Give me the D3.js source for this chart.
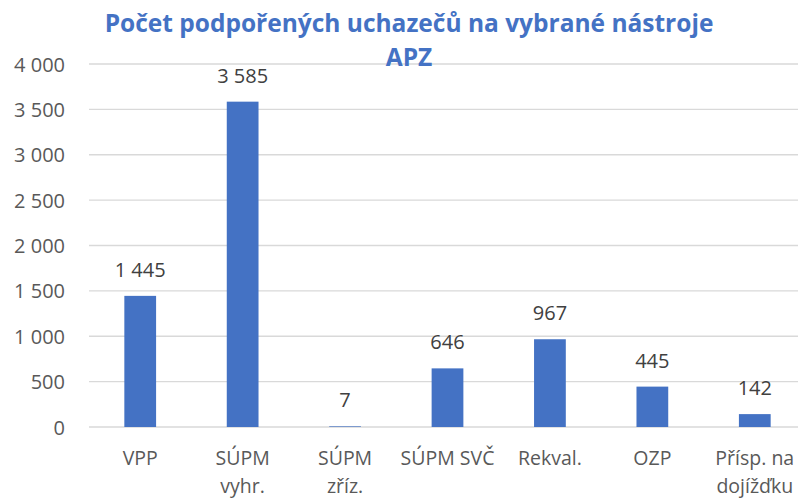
<!DOCTYPE html>
<html>
<head>
<meta charset="utf-8">
<script src="https://cdn.jsdelivr.net/npm/d3@7"></script>
<style>
  body { margin: 0; background: #fff; }
  text { font-family: "Open Sans", sans-serif; }
</style>
</head>
<body>
<svg width="798" height="499"></svg>
<script>
// Data
const categories = [
    ["VPP"],
    ["SÚPM", "vyhr."],
    ["SÚPM", "zříz."],
    ["SÚPM SVČ"],
    ["Rekval."],
    ["OZP"],
    ["Přísp. na", "dojížďku"]
];
const values = [1445, 3585, 7, 646, 967, 445, 142];
const yTicks = [0, 500, 1000, 1500, 2000, 2500, 3000, 3500, 4000];
const titleLines = ["Počet podpořených uchazečů na vybrané nástroje", "APZ"];

const svg = d3.select("svg");
const blue = "#4472C4";
const fmt = v => d3.format(",")(v).replace(/,/g, " ");

// Plot area
const plotLeft = 89, plotRight = 806, plotTop = 64, plotBottom = 427;

const x = d3.scaleBand()
    .domain(d3.range(categories.length))
    .range([plotLeft, plotRight])
    .paddingInner(0.69)
    .paddingOuter(0.345);

const y = d3.scaleLinear()
    .domain([0, 4000])
    .range([plotBottom, plotTop]);

// Gridlines
svg.append("g")
    .selectAll("line")
    .data(yTicks)
    .enter()
    .append("line")
    .attr("x1", plotLeft)
    .attr("x2", 798)
    .attr("y1", d => y(d))
    .attr("y2", d => y(d))
    .attr("stroke", "#d9d9d9")
    .attr("stroke-width", 1.3);

// Y tick labels
svg.append("g")
    .selectAll("text")
    .data(yTicks)
    .enter()
    .append("text")
    .attr("x", 65)
    .attr("y", d => y(d) + 7.5)
    .attr("text-anchor", "end")
    .attr("font-size", 20)
    .attr("fill", "#595959")
    .text(d => fmt(d));

// Bars
svg.append("g")
    .selectAll("rect")
    .data(values)
    .enter()
    .append("rect")
    .attr("x", (d, i) => x(i))
    .attr("width", x.bandwidth())
    .attr("y", d => y(d))
    .attr("height", d => plotBottom - y(d))
    .attr("fill", blue);

// Value labels
svg.append("g")
    .selectAll("text")
    .data(values)
    .enter()
    .append("text")
    .attr("x", (d, i) => x(i) + x.bandwidth() / 2)
    .attr("y", d => y(d) - 19)
    .attr("text-anchor", "middle")
    .attr("font-size", 20)
    .attr("fill", "#404040")
    .text(d => fmt(d));

// Category labels
const cat = svg.append("g")
    .selectAll("text")
    .data(categories)
    .enter()
    .append("text")
    .attr("text-anchor", "middle")
    .attr("font-size", 19.5)
    .attr("fill", "#595959");

cat.selectAll("tspan")
    .data((d, i) => d.map(t => ({ t, i })))
    .enter()
    .append("tspan")
    .attr("x", d => x(d.i) + x.bandwidth() / 2)
    .attr("y", (d, j) => 465 + j * 28)
    .text(d => d.t);

// Title
svg.append("text")
    .attr("text-anchor", "middle")
    .attr("font-size", 24.5)
    .attr("font-weight", "bold")
    .attr("fill", blue)
    .selectAll("tspan")
    .data(titleLines)
    .enter()
    .append("tspan")
    .attr("x", 409)
    .attr("y", (d, i) => 32 + i * 34)
    .text(d => d);
</script>
</body>
</html>
